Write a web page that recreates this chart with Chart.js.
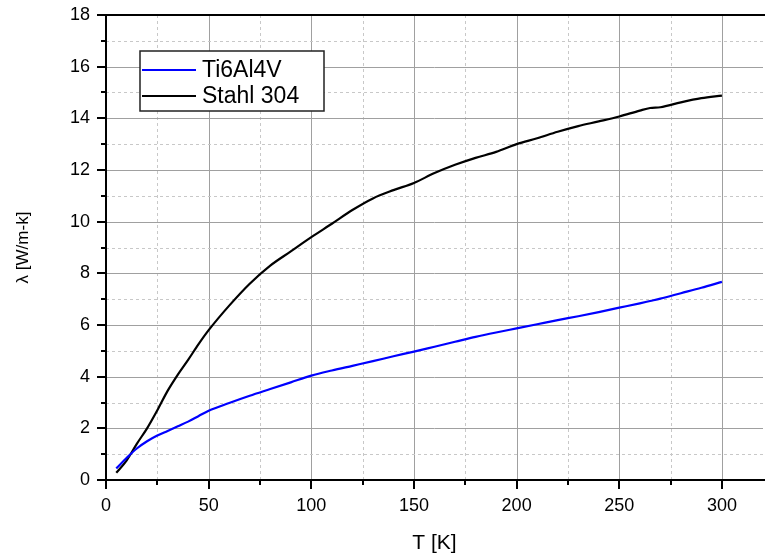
<!DOCTYPE html>
<html>
<head>
<meta charset="utf-8">
<script src="https://cdn.jsdelivr.net/npm/chart.js"></script>
<style>
  html, body { margin: 0; padding: 0; background: #fff; }
  #wrap { width: 765px; height: 558px; }
</style>
</head>
<body>
<div id="wrap"><canvas id="myChart" width="765" height="558"></canvas></div>
<script>
// temperatures in K
const temps = [5, 10, 15, 20, 25, 30, 35, 40, 45, 50, 60, 70, 80, 90, 100, 110, 120, 130, 140, 150,
  160, 170, 180, 190, 200, 210, 220, 230, 240, 250, 260, 265, 270, 280, 290, 300];
// thermal conductivity W/m-K
const ti6al4v = [0.45, 0.85, 1.22, 1.5, 1.72, 1.9, 2.08, 2.26, 2.47, 2.68, 2.98, 3.26, 3.52, 3.78, 4.04,
  4.24, 4.42, 4.6, 4.79, 4.97, 5.16, 5.35, 5.54, 5.71, 5.87, 6.03, 6.19, 6.34, 6.5, 6.67, 6.84, 6.93,
  7.02, 7.23, 7.44, 7.67];
const stahl304 = [0.28, 0.75, 1.4, 2.0, 2.7, 3.45, 4.08, 4.65, 5.25, 5.8, 6.75, 7.6, 8.3, 8.85, 9.4,
  9.92, 10.45, 10.9, 11.22, 11.5, 11.88, 12.2, 12.47, 12.7, 13.0, 13.23, 13.48, 13.7, 13.88, 14.07,
  14.3, 14.4, 14.43, 14.62, 14.78, 14.88];
const seriesNames = ["Ti6Al4V", "Stahl 304"];
const seriesColors = ["#0000ff", "#000000"];
const xTicks = [0, 25, 50, 75, 100, 125, 150, 175, 200, 225, 250, 275, 300];
const xTickLabels = [0, 50, 100, 150, 200, 250, 300];
const yTickLabels = [0, 2, 4, 6, 8, 10, 12, 14, 16, 18];

const toPoints = (ys) => temps.map((t, i) => ({ x: t, y: ys[i] }));

// grid, tick marks, frame and legend drawn like the original plot
const framePlugin = {
  id: "frame",
  beforeDatasetsDraw(chart) {
    const { ctx, chartArea: a, scales: { x, y } } = chart;
    ctx.save();
    ctx.lineWidth = 1;
    x.ticks.forEach((t) => {
      const px = Math.round(x.getPixelForValue(t.value)) + 0.5;
      const major = xTickLabels.includes(t.value);
      ctx.strokeStyle = major ? "#a0a0a0" : "#c8c8c8";
      ctx.setLineDash(major ? [] : [3, 3]);
      ctx.beginPath(); ctx.moveTo(px, a.top); ctx.lineTo(px, a.bottom); ctx.stroke();
    });
    y.ticks.forEach((t) => {
      const py = Math.round(y.getPixelForValue(t.value)) + 0.5;
      const major = yTickLabels.includes(t.value);
      ctx.strokeStyle = major ? "#a0a0a0" : "#c8c8c8";
      ctx.setLineDash(major ? [] : [3, 3]);
      ctx.beginPath(); ctx.moveTo(a.left, py); ctx.lineTo(a.right, py); ctx.stroke();
    });
    ctx.restore();
  },
  afterDraw(chart) {
    const { ctx, chartArea: a, scales: { x, y } } = chart;
    ctx.save();
    ctx.strokeStyle = "#000";
    ctx.lineWidth = 2;
    ctx.setLineDash([]);
    ctx.beginPath();
    ctx.moveTo(a.left, a.top); ctx.lineTo(765, a.top);
    ctx.moveTo(a.left, a.top - 1); ctx.lineTo(a.left, a.bottom + 1);
    ctx.moveTo(a.left - 1, a.bottom); ctx.lineTo(765, a.bottom);
    ctx.stroke();
    x.ticks.forEach((t) => {
      const px = Math.round(x.getPixelForValue(t.value));
      const len = xTickLabels.includes(t.value) ? 9 : 5;
      ctx.beginPath(); ctx.moveTo(px, a.bottom); ctx.lineTo(px, a.bottom + len); ctx.stroke();
    });
    y.ticks.forEach((t) => {
      const py = Math.round(y.getPixelForValue(t.value));
      const len = yTickLabels.includes(t.value) ? 9 : 5;
      ctx.beginPath(); ctx.moveTo(a.left, py); ctx.lineTo(a.left - len, py); ctx.stroke();
    });

    // legend box
    const lx = a.left + 34, ly = a.top + 36, lw = 184, lh = 60;
    ctx.fillStyle = "#fff";
    ctx.fillRect(lx, ly, lw, lh);
    ctx.lineWidth = 1.5;
    ctx.strokeStyle = "#222";
    ctx.strokeRect(lx, ly, lw, lh);
    ctx.font = "23px 'Liberation Sans', Arial, sans-serif";
    ctx.textBaseline = "middle";
    chart.data.datasets.forEach((ds, i) => {
      const yy = ly + 19 + i * 26;
      ctx.strokeStyle = ds.borderColor;
      ctx.lineWidth = 2;
      ctx.beginPath(); ctx.moveTo(lx + 2, yy); ctx.lineTo(lx + 56, yy); ctx.stroke();
      ctx.fillStyle = "#000";
      ctx.fillText(ds.label, lx + 62, yy + 1);
    });
    ctx.restore();
  }
};

const ctx = document.getElementById("myChart").getContext("2d");
new Chart(ctx, {
  type: "line",
  data: {
    datasets: [
      { label: seriesNames[0], data: toPoints(ti6al4v), borderColor: seriesColors[0], borderWidth: 2.2, pointRadius: 0, cubicInterpolationMode: "monotone", fill: false },
      { label: seriesNames[1], data: toPoints(stahl304), borderColor: seriesColors[1], borderWidth: 2.2, pointRadius: 0, cubicInterpolationMode: "monotone", fill: false }
    ]
  },
  options: {
    responsive: false,
    animation: false,
    layout: { padding: { left: 0, right: 2, top: 15, bottom: 0 } },
    plugins: { legend: { display: false }, tooltip: { enabled: false } },
    scales: {
      x: {
        type: "linear", min: 0, max: 320,
        grid: { display: false, drawTicks: false },
        border: { display: false },
        afterBuildTicks: (s) => { s.ticks = xTicks.map((v) => ({ value: v })); },
        afterFit: (s) => { s.height = 78; s.paddingLeft = 0; s.paddingRight = 0; },
        ticks: {
          padding: 15, color: "#000",
          font: { family: "'Liberation Sans', Arial, sans-serif", size: 18 },
          maxRotation: 0, autoSkip: false,
          callback: (v) => (xTickLabels.includes(v) ? String(v) : "")
        },
        title: { display: true, text: "T [K]", color: "#000", padding: { top: 0, bottom: 2 },
          font: { family: "'Liberation Sans', Arial, sans-serif", size: 21 } }
      },
      y: {
        min: 0, max: 18,
        grid: { display: false, drawTicks: false },
        border: { display: false },
        afterFit: (s) => { s.width = 106; s.paddingTop = 0; s.paddingBottom = 0; },
        ticks: {
          stepSize: 1, padding: 16, color: "#000", autoSkip: false,
          font: { family: "'Liberation Sans', Arial, sans-serif", size: 18 },
          callback: (v) => (yTickLabels.includes(v) ? String(v) : "")
        },
        title: { display: true, text: "λ [W/m-k]", color: "#000", padding: { top: 13, bottom: 0 },
          font: { family: "'Liberation Sans', Arial, sans-serif", size: 17 } }
      }
    }
  },
  plugins: [framePlugin]
});
</script>
</body>
</html>
